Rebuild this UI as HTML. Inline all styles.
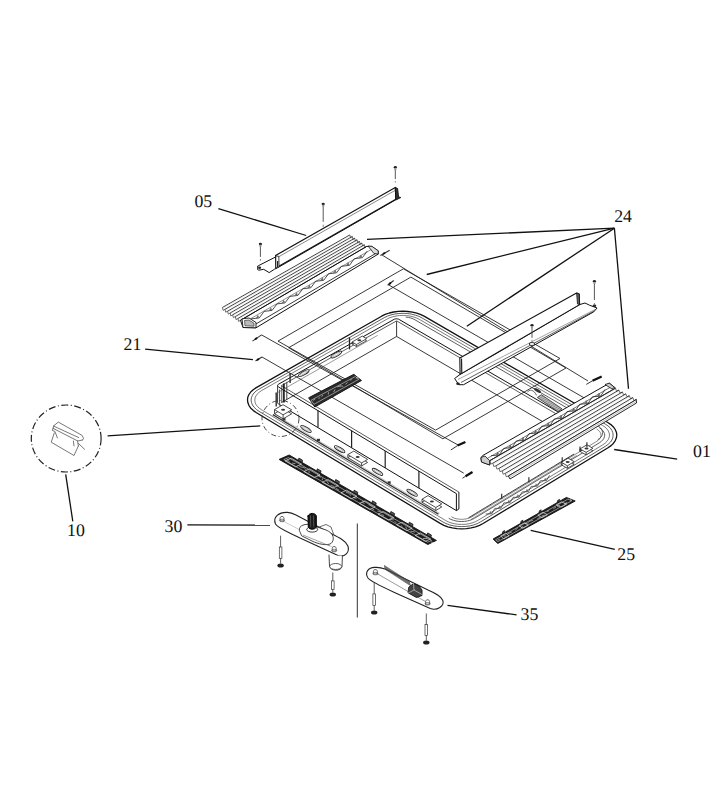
<!DOCTYPE html>
<html><head><meta charset="utf-8"><style>
html,body{margin:0;padding:0;background:#fff;width:728px;height:800px;overflow:hidden}
svg{display:block}
text{font-family:"Liberation Serif",serif;font-size:17.8px;text-rendering:geometricPrecision;fill:#111}
</style></head><body>
<svg width="728" height="800" viewBox="0 0 728 800">
<rect width="728" height="800" fill="#fff"/>
<line x1="218.4" y1="208.6" x2="306.2" y2="235.5" stroke="#111" stroke-width="1.3"/>
<line x1="614.4" y1="228.2" x2="367.0" y2="239.4" stroke="#111" stroke-width="1.3"/>
<line x1="614.4" y1="228.2" x2="426.7" y2="274.5" stroke="#111" stroke-width="1.3"/>
<line x1="614.4" y1="228.2" x2="466.8" y2="326.2" stroke="#111" stroke-width="1.3"/>
<line x1="614.4" y1="228.2" x2="628.5" y2="388.8" stroke="#111" stroke-width="1.3"/>
<line x1="145.1" y1="349.2" x2="252.9" y2="359.6" stroke="#111" stroke-width="1.3"/>
<line x1="614.2" y1="449.5" x2="677.2" y2="459.2" stroke="#111" stroke-width="1.3"/>
<line x1="107.6" y1="435.8" x2="260.2" y2="425.9" stroke="#111" stroke-width="1.3"/>
<line x1="65.7" y1="474.4" x2="72.8" y2="521.4" stroke="#111" stroke-width="1.3"/>
<line x1="187.4" y1="524.8" x2="270.0" y2="525.2" stroke="#111" stroke-width="1.3"/>
<line x1="530.7" y1="530.3" x2="614.8" y2="549.3" stroke="#111" stroke-width="1.3"/>
<line x1="447.5" y1="605.4" x2="516.6" y2="614.9" stroke="#111" stroke-width="1.3"/>
<line x1="357.3" y1="523.5" x2="357.3" y2="617.5" stroke="#333" stroke-width="1.0"/>
<ellipse cx="66.2" cy="438.5" rx="34.9" ry="33.5" fill="none" stroke="#222" stroke-width="1.2" stroke-dasharray="7 2.5 1 2.5"/>
<path d="M53.7,425.8 L58.3,422.1 L82.1,435.4 L83.6,438.5 L82.5,440 M53.7,425.8 L53,428.3 L77.8,441 L82.5,440 M54.3,426.4 L78.7,437.6 M53,428.3 L52.4,430.5 L54.9,431.4 L57.4,437.9 M54.3,432.9 L51.2,442.2 L74,455.5 L78.4,445.9 M73.4,441 L74,445.9 M78.4,443.4 L84.6,449.3 M77.5,441 L78.4,445.9" fill="none" stroke="#555" stroke-width="0.8" stroke-linejoin="round" stroke-linecap="round"/>
<polygon points="256.5,412.8 253.4,410.6 250.8,408.2 249.0,405.6 247.9,402.8 247.5,400.0 247.8,397.3 248.9,394.6 250.7,392.0 253.2,389.7 256.3,387.6 381.6,316.2 385.2,314.4 389.3,313.0 393.7,312.0 398.3,311.4 403.0,311.2 407.8,311.5 412.4,312.1 416.8,313.2 420.9,314.6 424.5,316.4 607.8,422.5 610.9,424.6 613.4,426.9 615.2,429.5 616.4,432.2 616.8,435.0 616.4,437.8 615.3,440.6 613.5,443.2 611.1,445.6 608.0,447.8 483.1,523.5 479.5,525.4 475.5,526.9 471.1,527.9 466.5,528.6 461.7,528.8 457.0,528.6 452.3,527.9 447.9,526.8 443.9,525.3 440.2,523.4" fill="#fff" stroke="#111" stroke-width="1.3" stroke-linejoin="round"/>
<polygon points="259.0,411.3 256.3,409.4 254.1,407.3 252.5,405.0 251.5,402.6 251.1,400.1 251.4,397.7 252.4,395.3 254.0,393.0 256.1,391.0 258.9,389.2 384.2,317.7 387.4,316.1 391.0,314.9 394.8,314.0 398.9,313.5 403.1,313.3 407.2,313.5 411.3,314.1 415.2,315.1 418.8,316.3 421.9,317.9 605.2,424.0 608.0,425.9 610.2,427.9 611.8,430.2 612.8,432.6 613.1,435.1 612.8,437.5 611.9,440.0 610.3,442.3 608.1,444.4 605.4,446.3 480.5,521.9 477.3,523.6 473.8,524.9 469.9,525.9 465.9,526.4 461.7,526.6 457.5,526.4 453.4,525.8 449.6,524.9 446.0,523.5 442.8,521.9" fill="none" stroke="#333" stroke-width="0.8" stroke-linejoin="round"/>
<polygon points="261.6,409.8 259.2,408.2 257.3,406.3 255.9,404.4 255.1,402.3 254.8,400.2 255.0,398.0 255.9,396.0 257.2,394.1 259.1,392.3 261.4,390.7 386.8,319.2 389.5,317.8 392.6,316.8 396.0,316.0 399.5,315.5 403.1,315.4 406.7,315.6 410.2,316.1 413.5,316.9 416.6,318.0 419.4,319.4 602.7,425.5 605.0,427.1 606.9,428.9 608.3,430.9 609.2,433.0 609.5,435.1 609.2,437.2 608.4,439.3 607.0,441.3 605.2,443.1 602.8,444.8 477.9,520.4 475.2,521.8 472.1,522.9 468.8,523.8 465.3,524.3 461.7,524.4 458.1,524.3 454.5,523.7 451.2,522.9 448.1,521.8 445.3,520.3" fill="none" stroke="#444" stroke-width="0.7" stroke-linejoin="round"/>
<polyline points="599.3,427.6 601.1,428.9 602.6,430.3 603.7,431.8 604.4,433.5 604.7,435.1 604.4,436.8 603.8,438.5 602.7,440.0 601.2,441.5 599.4,442.8 474.5,518.3 472.3,519.4 469.9,520.3 467.3,521.0 464.5,521.4 461.6,521.5 458.8,521.4 456.0,521.0 453.4,520.3 450.9,519.4 448.7,518.3" fill="none" stroke="#333" stroke-width="0.8" stroke-linejoin="round"/>
<polyline points="596.7,429.1 598.2,430.1 599.4,431.3 600.3,432.5 600.8,433.8 601.0,435.2 600.9,436.5 600.3,437.8 599.5,439.1 598.3,440.3 596.8,441.3 471.9,516.8 470.2,517.7 468.2,518.4 466.1,518.9 463.9,519.2 461.6,519.3 459.3,519.2 457.1,518.9 455.0,518.4 453.1,517.6 451.3,516.7" fill="none" stroke="#555" stroke-width="0.7" stroke-linejoin="round"/>
<polygon points="456.4,493.6 278.7,387.1 278.3,386.7 277.9,386.4 277.7,386.0 277.6,385.6 277.6,402.6 277.7,403.0 277.9,403.4 278.3,403.7 278.7,404.1 456.4,510.6" fill="#fff" stroke="none" stroke-width="0.0" stroke-linejoin="round"/>
<polygon points="396.6,321.0 396.7,321.0 396.8,321.1 396.9,321.1 397.0,321.1 556.7,414.2 556.7,429.8 397.0,336.7 396.9,336.6 396.8,336.6 396.7,336.6 396.6,336.6" fill="#fff" stroke="none" stroke-width="0.0" stroke-linejoin="round"/>
<polyline points="456.4,493.6 278.7,387.1 278.3,386.7 277.9,386.4 277.7,386.0 277.6,385.6 277.7,385.1 277.9,384.8 278.2,384.4 278.7,384.1 394.0,319.4 394.6,319.1 395.2,319.0 395.9,318.8 396.6,318.8 397.3,318.9 398.0,319.0 398.6,319.2 399.2,319.5 559.3,412.7" fill="none" stroke="#111" stroke-width="1.0" stroke-linejoin="round"/>
<polyline points="458.9,492.1 281.7,385.9 281.6,385.8 281.6,385.8 281.5,385.7 281.5,385.6 281.5,385.6 281.6,385.5 281.6,385.5 281.7,385.4 396.2,321.1 396.3,321.1 396.4,321.1 396.5,321.0 396.6,321.0 396.7,321.0 396.8,321.1 396.9,321.1 397.0,321.1 556.7,414.2" fill="none" stroke="#333" stroke-width="0.8" stroke-linejoin="round"/>
<polyline points="456.4,510.6 278.7,404.1 278.3,403.7 277.9,403.4 277.7,403.0 277.6,402.6" fill="none" stroke="#111" stroke-width="1.0" stroke-linejoin="round"/>
<polyline points="281.5,402.7 281.5,402.6 281.5,402.5 281.6,402.5 281.6,402.4 281.7,402.4 396.2,336.7 396.3,336.6 396.4,336.6 396.5,336.6 396.6,336.6 396.7,336.6 396.8,336.6 396.9,336.6 397.0,336.7 556.7,429.8" fill="none" stroke="#222" stroke-width="0.9" stroke-linejoin="round"/>
<line x1="456.4" y1="493.6" x2="456.4" y2="510.6" stroke="#111" stroke-width="1.0"/>
<line x1="458.9" y1="492.1" x2="458.9" y2="509.0" stroke="#111" stroke-width="1.0"/>
<line x1="456.4" y1="510.6" x2="458.9" y2="509.0" stroke="#111" stroke-width="1.0"/>
<line x1="559.3" y1="412.7" x2="559.3" y2="428.2" stroke="#222" stroke-width="0.9"/>
<line x1="556.7" y1="414.2" x2="556.7" y2="429.8" stroke="#222" stroke-width="0.9"/>
<line x1="277.6" y1="385.6" x2="277.6" y2="402.6" stroke="#222" stroke-width="0.9"/>
<line x1="281.8" y1="385.6" x2="281.8" y2="402.6" stroke="#222" stroke-width="0.8"/>
<line x1="396.6" y1="321.2" x2="396.6" y2="336.7" stroke="#222" stroke-width="0.9"/>
<line x1="318.0" y1="410.6" x2="318.0" y2="427.6" stroke="#222" stroke-width="1.2"/>
<line x1="351.6" y1="430.8" x2="351.6" y2="447.8" stroke="#222" stroke-width="1.2"/>
<line x1="385.2" y1="450.9" x2="385.2" y2="467.9" stroke="#222" stroke-width="1.2"/>
<line x1="418.9" y1="471.1" x2="418.9" y2="488.1" stroke="#222" stroke-width="1.2"/>
<polyline points="272.8,414.6 279.7,418.7 286.6,422.9 293.5,427.0 300.4,431.2 307.3,435.3 314.2,439.5 321.1,443.6 328.0,447.8 334.9,451.9 341.8,456.1 348.7,460.2 355.6,464.3 362.5,468.5 369.4,472.6 376.3,476.8 383.2,480.9 390.1,485.1 397.0,489.2 403.9,493.4 410.8,497.5 417.7,501.7 424.6,505.8 431.5,510.0 438.4,514.1" fill="none" stroke="#333" stroke-width="1.3" stroke-linejoin="round"/>
<polyline points="274.1,413.8 281.0,418.0 287.9,422.1 294.8,426.3 301.7,430.4 308.6,434.6 315.5,438.7 322.4,442.9 329.3,447.0 336.2,451.2 343.1,455.3 350.0,459.4 356.9,463.6 363.8,467.7 370.7,471.9 377.6,476.0 384.5,480.2 391.4,484.3 398.3,488.5 405.2,492.6 412.1,496.8 419.0,500.9 425.9,505.1 432.8,509.2 439.7,513.4" fill="none" stroke="#888" stroke-width="0.5" stroke-linejoin="round"/>
<ellipse cx="306.0" cy="429.0" rx="6.0" ry="1.8" fill="#fff" stroke="#222" stroke-width="0.9" transform="rotate(31.0 306.0 429.0)"/>
<ellipse cx="306.0" cy="429.0" rx="4.2" ry="0.9" fill="none" stroke="#777" stroke-width="0.5" transform="rotate(31.0 306.0 429.0)"/>
<ellipse cx="339.6" cy="449.2" rx="6.0" ry="1.8" fill="#fff" stroke="#222" stroke-width="0.9" transform="rotate(31.0 339.6 449.2)"/>
<ellipse cx="339.6" cy="449.2" rx="4.2" ry="0.9" fill="none" stroke="#777" stroke-width="0.5" transform="rotate(31.0 339.6 449.2)"/>
<ellipse cx="377.5" cy="471.9" rx="6.0" ry="1.8" fill="#fff" stroke="#222" stroke-width="0.9" transform="rotate(31.0 377.5 471.9)"/>
<ellipse cx="377.5" cy="471.9" rx="4.2" ry="0.9" fill="none" stroke="#777" stroke-width="0.5" transform="rotate(31.0 377.5 471.9)"/>
<ellipse cx="412.1" cy="492.7" rx="6.0" ry="1.8" fill="#fff" stroke="#222" stroke-width="0.9" transform="rotate(31.0 412.1 492.7)"/>
<ellipse cx="412.1" cy="492.7" rx="4.2" ry="0.9" fill="none" stroke="#777" stroke-width="0.5" transform="rotate(31.0 412.1 492.7)"/>
<polygon points="347.8,457.6 361.6,465.9 367.6,462.4 353.8,454.1" fill="#fff" stroke="#222" stroke-width="0.8" stroke-linejoin="round"/>
<polygon points="347.8,454.6 361.6,462.9 367.6,459.4 353.8,451.1" fill="#fff" stroke="#222" stroke-width="0.8" stroke-linejoin="round"/>
<line x1="347.8" y1="457.6" x2="347.8" y2="454.6" stroke="#222" stroke-width="0.8"/>
<line x1="361.6" y1="465.9" x2="361.6" y2="462.9" stroke="#222" stroke-width="0.8"/>
<ellipse cx="357.7" cy="457.0" rx="2" ry="1" fill="#333"/>
<polygon points="422.0,502.2 435.8,510.5 441.8,506.9 428.0,498.6" fill="#fff" stroke="#222" stroke-width="0.8" stroke-linejoin="round"/>
<polygon points="422.0,499.2 435.8,507.5 441.8,503.9 428.0,495.6" fill="#fff" stroke="#222" stroke-width="0.8" stroke-linejoin="round"/>
<line x1="422.0" y1="502.2" x2="422.0" y2="499.2" stroke="#222" stroke-width="0.8"/>
<line x1="435.8" y1="510.5" x2="435.8" y2="507.5" stroke="#222" stroke-width="0.8"/>
<ellipse cx="431.9" cy="501.6" rx="2" ry="1" fill="#333"/>
<rect x="282.5" y="418.1" width="3" height="2.4" fill="#333"/>
<rect x="317.0" y="438.8" width="3" height="2.4" fill="#333"/>
<rect x="387.7" y="481.3" width="3" height="2.4" fill="#333"/>
<polygon points="274.5,413.6 283.1,418.8 291.7,413.8 283.0,408.7" fill="#fff" stroke="#222" stroke-width="0.8" stroke-linejoin="round"/>
<polygon points="274.5,409.6 283.1,414.8 291.7,409.8 283.0,404.7" fill="#fff" stroke="#222" stroke-width="0.8" stroke-linejoin="round"/>
<line x1="274.5" y1="413.6" x2="274.5" y2="409.6" stroke="#222" stroke-width="0.8"/>
<line x1="283.1" y1="418.8" x2="283.1" y2="414.8" stroke="#222" stroke-width="0.8"/>
<ellipse cx="283.1" cy="409.7" rx="2" ry="1" fill="#333"/>
<line x1="276.2" y1="406.6" x2="276.2" y2="392.6" stroke="#222" stroke-width="1.3"/>
<line x1="279.6" y1="405.6" x2="279.6" y2="389.6" stroke="#444" stroke-width="1.0"/>
<line x1="283.9" y1="402.6" x2="283.9" y2="383.6" stroke="#111" stroke-width="1.6"/>
<line x1="286.8" y1="399.9" x2="286.8" y2="381.9" stroke="#444" stroke-width="1.0"/>
<ellipse cx="303.8" cy="373.1" rx="6.0" ry="1.8" fill="#fff" stroke="#222" stroke-width="0.9" transform="rotate(-29.8 303.8 373.1)"/>
<ellipse cx="303.8" cy="373.1" rx="4.2" ry="0.9" fill="none" stroke="#777" stroke-width="0.5" transform="rotate(-29.8 303.8 373.1)"/>
<ellipse cx="336.3" cy="354.5" rx="6.0" ry="1.8" fill="#fff" stroke="#222" stroke-width="0.9" transform="rotate(-29.8 336.3 354.5)"/>
<ellipse cx="336.3" cy="354.5" rx="4.2" ry="0.9" fill="none" stroke="#777" stroke-width="0.5" transform="rotate(-29.8 336.3 354.5)"/>
<line x1="349.5" y1="349.4" x2="349.5" y2="337.4" stroke="#222" stroke-width="1.3"/>
<line x1="290.1" y1="382.9" x2="290.1" y2="372.9" stroke="#222" stroke-width="1.3"/>
<polygon points="352.1,344.0 356.4,346.5 366.6,340.7 362.3,338.1" fill="#fff" stroke="#222" stroke-width="0.8" stroke-linejoin="round"/>
<polygon points="352.1,342.0 356.4,344.5 366.6,338.7 362.3,336.1" fill="#fff" stroke="#222" stroke-width="0.8" stroke-linejoin="round"/>
<line x1="352.1" y1="344.0" x2="352.1" y2="342.0" stroke="#222" stroke-width="0.8"/>
<line x1="356.4" y1="346.5" x2="356.4" y2="344.5" stroke="#222" stroke-width="0.8"/>
<ellipse cx="359.3" cy="340.3" rx="2" ry="1" fill="#333"/>
<polyline points="275.2,394.0 377.7,335.3" fill="none" stroke="#555" stroke-width="0.6" stroke-linejoin="round"/>
<polyline points="468.5,517.8 471.9,515.8 475.3,513.7 478.7,511.6 482.1,509.6 485.5,507.5 488.9,505.5 492.3,503.4 495.7,501.3 499.1,499.3 502.5,497.2 505.9,495.2 509.3,493.1 512.7,491.1 516.2,489.0 519.6,486.9 523.0,484.9 526.4,482.8 529.8,480.8 533.2,478.7 536.6,476.7 540.0,474.6 543.4,472.5 546.8,470.5 550.2,468.4 553.6,466.4 557.0,464.3 560.4,462.2 563.9,460.2 567.3,458.1 570.7,456.1 574.1,454.0" fill="none" stroke="#222" stroke-width="0.9" stroke-linejoin="round"/>
<polyline points="471.0,519.4 474.5,517.3 477.9,515.2 481.3,513.2 484.7,511.1 488.1,509.1 491.5,507.0 494.9,504.9 498.3,502.9 501.7,500.8 505.1,498.8 508.5,496.7 511.9,494.7 515.3,492.6 518.7,490.5 522.1,488.5 525.6,486.4 529.0,484.4 532.4,482.3 535.8,480.2 539.2,478.2 542.6,476.1 546.0,474.1 549.4,472.0 552.8,469.9 556.2,467.9 559.6,465.8 563.0,463.8 566.4,461.7 569.8,459.6 573.2,457.6 576.7,455.5" fill="none" stroke="#555" stroke-width="0.6" stroke-linejoin="round"/>
<polyline points="405.7,317.1 408.3,317.4 410.8,318.0 413.1,318.8 415.1,319.9 597.5,425.6 599.3,426.8 600.7,428.1 601.7,429.5 602.3,431.1 602.6,432.6 602.4,434.2 601.8,435.7 600.8,437.2 599.4,438.6 597.7,439.8" fill="none" stroke="#333" stroke-width="0.8" stroke-linejoin="round"/>
<polyline points="485.7,514.0 491.8,513.8 494.8,508.4 500.9,508.2 503.9,502.9 510.0,502.7 513.0,497.4 519.1,497.2 522.2,491.9 528.3,491.7 531.3,486.4 537.4,486.2 540.4,480.8 546.5,480.6 549.5,475.3" fill="none" stroke="#222" stroke-width="0.7" stroke-linejoin="round"/>
<line x1="490.2" y1="511.2" x2="491.2" y2="512.9" stroke="#444" stroke-width="0.6"/>
<line x1="499.3" y1="505.7" x2="500.4" y2="507.3" stroke="#444" stroke-width="0.6"/>
<line x1="508.5" y1="500.2" x2="509.5" y2="501.8" stroke="#444" stroke-width="0.6"/>
<line x1="517.6" y1="494.6" x2="518.6" y2="496.3" stroke="#444" stroke-width="0.6"/>
<line x1="526.7" y1="489.1" x2="527.7" y2="490.8" stroke="#444" stroke-width="0.6"/>
<line x1="535.8" y1="483.6" x2="536.8" y2="485.3" stroke="#444" stroke-width="0.6"/>
<line x1="545.0" y1="478.1" x2="546.0" y2="479.7" stroke="#444" stroke-width="0.6"/>
<polygon points="488.9,514.1 490.4,511.5 491.5,513.3" fill="#666"/>
<polygon points="498.0,508.6 499.5,505.9 500.6,507.7" fill="#666"/>
<polygon points="507.1,503.1 508.6,500.4 509.7,502.2" fill="#666"/>
<polygon points="516.2,497.6 517.7,494.9 518.8,496.7" fill="#666"/>
<polygon points="525.4,492.0 526.9,489.4 528.0,491.2" fill="#666"/>
<polygon points="534.5,486.5 536.0,483.9 537.1,485.6" fill="#666"/>
<polygon points="543.6,481.0 545.1,478.3 546.2,480.1" fill="#666"/>
<polygon points="561.3,464.8 567.4,468.3 574.2,464.2 568.1,460.7" fill="#fff" stroke="#222" stroke-width="0.8" stroke-linejoin="round"/>
<polygon points="561.3,462.3 567.4,465.8 574.2,461.7 568.1,458.2" fill="#fff" stroke="#222" stroke-width="0.8" stroke-linejoin="round"/>
<line x1="561.3" y1="464.8" x2="561.3" y2="462.3" stroke="#222" stroke-width="0.8"/>
<line x1="567.4" y1="468.3" x2="567.4" y2="465.8" stroke="#222" stroke-width="0.8"/>
<ellipse cx="567.7" cy="462.0" rx="2" ry="1" fill="#333"/>
<polygon points="580.0,451.4 586.1,454.9 592.9,450.8 586.9,447.3" fill="#fff" stroke="#222" stroke-width="0.8" stroke-linejoin="round"/>
<polygon points="580.0,448.9 586.1,452.4 592.9,448.3 586.9,444.8" fill="#fff" stroke="#222" stroke-width="0.8" stroke-linejoin="round"/>
<line x1="580.0" y1="451.4" x2="580.0" y2="448.9" stroke="#222" stroke-width="0.8"/>
<line x1="586.1" y1="454.9" x2="586.1" y2="452.4" stroke="#222" stroke-width="0.8"/>
<ellipse cx="586.5" cy="448.6" rx="2" ry="1" fill="#333"/>
<line x1="501.7" y1="498.8" x2="501.7" y2="493.8" stroke="#222" stroke-width="1.1"/>
<line x1="528.9" y1="482.3" x2="528.9" y2="477.3" stroke="#222" stroke-width="1.1"/>
<line x1="562.2" y1="462.2" x2="562.2" y2="457.2" stroke="#222" stroke-width="1.1"/>
<line x1="580.0" y1="451.4" x2="580.0" y2="446.4" stroke="#222" stroke-width="1.1"/>
<line x1="586.9" y1="447.3" x2="586.9" y2="442.3" stroke="#222" stroke-width="1.1"/>
<polygon points="537.3,397.5 541.5,394.8 562.0,408.8 558.0,411.6" fill="#bbb" stroke="#333" stroke-width="0.8" stroke-linejoin="round"/>
<line x1="537.3" y1="397.5" x2="541.5" y2="394.8" stroke="#555" stroke-width="0.5"/>
<line x1="539.2" y1="398.8" x2="543.4" y2="396.1" stroke="#555" stroke-width="0.5"/>
<line x1="541.1" y1="400.1" x2="545.2" y2="397.3" stroke="#555" stroke-width="0.5"/>
<line x1="542.9" y1="401.3" x2="547.1" y2="398.6" stroke="#555" stroke-width="0.5"/>
<line x1="544.8" y1="402.6" x2="549.0" y2="399.9" stroke="#555" stroke-width="0.5"/>
<line x1="546.7" y1="403.9" x2="550.8" y2="401.2" stroke="#555" stroke-width="0.5"/>
<line x1="548.6" y1="405.2" x2="552.7" y2="402.4" stroke="#555" stroke-width="0.5"/>
<line x1="550.5" y1="406.5" x2="554.5" y2="403.7" stroke="#555" stroke-width="0.5"/>
<line x1="552.4" y1="407.8" x2="556.4" y2="405.0" stroke="#555" stroke-width="0.5"/>
<line x1="554.2" y1="409.0" x2="558.3" y2="406.3" stroke="#555" stroke-width="0.5"/>
<line x1="556.1" y1="410.3" x2="560.1" y2="407.5" stroke="#555" stroke-width="0.5"/>
<line x1="558.0" y1="411.6" x2="562.0" y2="408.8" stroke="#555" stroke-width="0.5"/>
<ellipse cx="537.5" cy="390.5" rx="4" ry="1.4" fill="#333" transform="rotate(30 537.5 390.5)"/>
<path d="M527.5,392 C529,389 534,389.5 536.4,395" fill="none" stroke="#444" stroke-width="0.8" stroke-linejoin="round" stroke-linecap="round"/>
<polygon points="278.0,341.1 403.4,268.8 560.0,358.5 435.6,430.1" fill="none" stroke="#222" stroke-width="0.9" stroke-linejoin="round"/>
<polygon points="288.7,347.7 410.9,277.1 566.0,368.0 442.9,438.8" fill="none" stroke="#222" stroke-width="0.9" stroke-linejoin="round"/>
<line x1="382.0" y1="255.0" x2="588.0" y2="381.0" stroke="#222" stroke-width="0.9"/>
<line x1="388.2" y1="284.6" x2="593.0" y2="403.0" stroke="#222" stroke-width="0.9"/>
<line x1="261.5" y1="334.9" x2="458.0" y2="445.0" stroke="#222" stroke-width="0.9"/>
<line x1="262.0" y1="357.0" x2="463.7" y2="473.1" stroke="#222" stroke-width="0.9"/>
<line x1="380.4" y1="255.5" x2="389.7" y2="250.3" stroke="#333" stroke-width="1.1"/>
<ellipse cx="384.1" cy="253.4" rx="1.6" ry="1.0" fill="#111" transform="rotate(-29.2 384.1 253.4)"/>
<line x1="387.6" y1="285.3" x2="393.7" y2="280.5" stroke="#333" stroke-width="1.1"/>
<ellipse cx="390.0" cy="283.4" rx="1.6" ry="1.0" fill="#111" transform="rotate(-38.2 390.0 283.4)"/>
<line x1="252.5" y1="341.1" x2="261.5" y2="334.9" stroke="#333" stroke-width="1.1"/>
<ellipse cx="256.1" cy="338.6" rx="1.6" ry="1.0" fill="#111" transform="rotate(-34.6 256.1 338.6)"/>
<line x1="255.5" y1="361.0" x2="262.0" y2="357.0" stroke="#333" stroke-width="1.1"/>
<ellipse cx="258.1" cy="359.4" rx="1.6" ry="1.0" fill="#111" transform="rotate(-31.6 258.1 359.4)"/>
<line x1="450.8" y1="450.0" x2="457.5" y2="445.6" stroke="#333" stroke-width="1.0"/>
<line x1="457.5" y1="445.6" x2="465.4" y2="442.0" stroke="#111" stroke-width="2.2"/>
<line x1="462.5" y1="478.2" x2="465.5" y2="476.3" stroke="#333" stroke-width="1.0"/>
<line x1="465.5" y1="476.3" x2="472.5" y2="472.0" stroke="#111" stroke-width="2.2"/>
<line x1="586.3" y1="384.4" x2="592.5" y2="380.8" stroke="#333" stroke-width="1.0"/>
<line x1="592.5" y1="380.8" x2="601.7" y2="376.5" stroke="#111" stroke-width="2.2"/>
<polygon points="493.1,539.0 566.4,497.4 575.2,501.0 497.8,543.5" fill="#1c1c1c" stroke="#111" stroke-width="0.9" stroke-linejoin="round"/>
<polygon points="495.6,539.7 567.9,499.1 571.9,500.7 497.8,541.7" fill="none" stroke="#d8d8d8" stroke-width="0.6" stroke-linejoin="round"/>
<line x1="497.4" y1="540.3" x2="499.9" y2="539.0" stroke="#e0e0e0" stroke-width="0.6"/>
<line x1="503.3" y1="535.9" x2="506.1" y2="536.0" stroke="#e0e0e0" stroke-width="0.6"/>
<line x1="507.7" y1="533.8" x2="511.8" y2="532.0" stroke="#e0e0e0" stroke-width="0.6"/>
<line x1="515.3" y1="530.1" x2="517.7" y2="528.0" stroke="#e0e0e0" stroke-width="0.6"/>
<line x1="520.8" y1="528.0" x2="523.3" y2="526.3" stroke="#e0e0e0" stroke-width="0.6"/>
<line x1="524.8" y1="523.9" x2="529.0" y2="522.7" stroke="#e0e0e0" stroke-width="0.6"/>
<line x1="528.9" y1="521.5" x2="533.2" y2="520.1" stroke="#e0e0e0" stroke-width="0.6"/>
<line x1="537.3" y1="518.8" x2="540.6" y2="517.1" stroke="#e0e0e0" stroke-width="0.6"/>
<line x1="541.5" y1="516.3" x2="544.4" y2="515.0" stroke="#e0e0e0" stroke-width="0.6"/>
<line x1="546.9" y1="511.6" x2="549.1" y2="510.6" stroke="#e0e0e0" stroke-width="0.6"/>
<line x1="553.3" y1="508.8" x2="556.0" y2="507.0" stroke="#e0e0e0" stroke-width="0.6"/>
<line x1="557.1" y1="506.6" x2="559.9" y2="505.5" stroke="#e0e0e0" stroke-width="0.6"/>
<line x1="564.0" y1="504.0" x2="567.2" y2="502.3" stroke="#e0e0e0" stroke-width="0.6"/>
<line x1="570.5" y1="500.6" x2="571.4" y2="498.0" stroke="#e0e0e0" stroke-width="0.6"/>
<polygon points="500.7,536.1 505.9,533.2 509.1,535.8 503.8,538.8" fill="none" stroke="#e8e8e8" stroke-width="0.7" stroke-linejoin="round"/>
<polygon points="519.2,525.7 524.4,522.8 528.3,525.2 522.9,528.2" fill="none" stroke="#e8e8e8" stroke-width="0.7" stroke-linejoin="round"/>
<polygon points="537.8,515.2 543.0,512.3 547.4,514.7 542.0,517.6" fill="none" stroke="#e8e8e8" stroke-width="0.7" stroke-linejoin="round"/>
<polygon points="556.3,504.8 561.5,501.9 566.5,504.1 561.2,507.1" fill="none" stroke="#e8e8e8" stroke-width="0.7" stroke-linejoin="round"/>
<polygon points="502.3,533.8 502.8,531.6 504.6,530.6 504.1,532.8" fill="#555" stroke="#111" stroke-width="0.8" stroke-linejoin="round"/>
<polygon points="520.6,523.4 521.1,521.2 522.9,520.2 522.4,522.4" fill="#555" stroke="#111" stroke-width="0.8" stroke-linejoin="round"/>
<polygon points="538.9,513.0 539.4,510.8 541.2,509.8 540.7,512.0" fill="#555" stroke="#111" stroke-width="0.8" stroke-linejoin="round"/>
<polygon points="557.2,502.6 557.7,500.4 559.6,499.4 559.1,501.6" fill="#555" stroke="#111" stroke-width="0.8" stroke-linejoin="round"/>
<polygon points="289.2,455.0 436.4,540.4 427.8,544.5 279.1,459.4" fill="#1c1c1c" stroke="#111" stroke-width="0.9" stroke-linejoin="round"/>
<polygon points="288.4,457.6 431.6,540.4 427.7,542.2 283.8,459.6" fill="none" stroke="#d8d8d8" stroke-width="0.6" stroke-linejoin="round"/>
<line x1="286.7" y1="459.4" x2="289.6" y2="461.7" stroke="#e0e0e0" stroke-width="0.6"/>
<line x1="292.2" y1="463.1" x2="295.4" y2="463.6" stroke="#e0e0e0" stroke-width="0.6"/>
<line x1="299.4" y1="466.5" x2="304.8" y2="467.9" stroke="#e0e0e0" stroke-width="0.6"/>
<line x1="304.7" y1="468.3" x2="306.7" y2="470.4" stroke="#e0e0e0" stroke-width="0.6"/>
<line x1="308.9" y1="470.6" x2="309.2" y2="472.9" stroke="#e0e0e0" stroke-width="0.6"/>
<line x1="317.4" y1="475.3" x2="320.9" y2="477.3" stroke="#e0e0e0" stroke-width="0.6"/>
<line x1="322.6" y1="478.3" x2="322.2" y2="480.2" stroke="#e0e0e0" stroke-width="0.6"/>
<line x1="326.7" y1="480.9" x2="328.7" y2="484.0" stroke="#e0e0e0" stroke-width="0.6"/>
<line x1="330.5" y1="485.3" x2="334.2" y2="486.6" stroke="#e0e0e0" stroke-width="0.6"/>
<line x1="335.9" y1="488.3" x2="339.1" y2="490.3" stroke="#e0e0e0" stroke-width="0.6"/>
<line x1="345.8" y1="492.1" x2="348.7" y2="493.4" stroke="#e0e0e0" stroke-width="0.6"/>
<line x1="349.6" y1="493.7" x2="350.5" y2="495.7" stroke="#e0e0e0" stroke-width="0.6"/>
<line x1="353.1" y1="497.4" x2="356.6" y2="498.4" stroke="#e0e0e0" stroke-width="0.6"/>
<line x1="362.1" y1="502.1" x2="364.5" y2="503.5" stroke="#e0e0e0" stroke-width="0.6"/>
<line x1="368.6" y1="504.6" x2="372.6" y2="506.8" stroke="#e0e0e0" stroke-width="0.6"/>
<line x1="372.3" y1="509.0" x2="374.2" y2="509.9" stroke="#e0e0e0" stroke-width="0.6"/>
<line x1="377.4" y1="511.1" x2="380.6" y2="511.5" stroke="#e0e0e0" stroke-width="0.6"/>
<line x1="381.4" y1="514.5" x2="384.1" y2="515.5" stroke="#e0e0e0" stroke-width="0.6"/>
<line x1="389.7" y1="519.3" x2="393.8" y2="520.0" stroke="#e0e0e0" stroke-width="0.6"/>
<line x1="394.5" y1="521.5" x2="396.5" y2="522.6" stroke="#e0e0e0" stroke-width="0.6"/>
<line x1="400.9" y1="525.5" x2="402.4" y2="526.6" stroke="#e0e0e0" stroke-width="0.6"/>
<line x1="405.5" y1="526.7" x2="407.1" y2="529.2" stroke="#e0e0e0" stroke-width="0.6"/>
<line x1="410.5" y1="531.2" x2="415.1" y2="532.1" stroke="#e0e0e0" stroke-width="0.6"/>
<line x1="418.1" y1="533.5" x2="420.1" y2="534.5" stroke="#e0e0e0" stroke-width="0.6"/>
<line x1="422.9" y1="538.5" x2="427.5" y2="538.5" stroke="#e0e0e0" stroke-width="0.6"/>
<line x1="430.8" y1="541.8" x2="434.2" y2="543.0" stroke="#e0e0e0" stroke-width="0.6"/>
<polygon points="291.2,458.2 301.6,464.2 295.6,466.8 285.2,460.9" fill="none" stroke="#e8e8e8" stroke-width="0.7" stroke-linejoin="round"/>
<polygon points="309.7,468.9 320.0,474.9 314.1,477.5 303.8,471.5" fill="none" stroke="#e8e8e8" stroke-width="0.7" stroke-linejoin="round"/>
<polygon points="328.1,479.6 338.4,485.5 332.7,488.1 322.3,482.2" fill="none" stroke="#e8e8e8" stroke-width="0.7" stroke-linejoin="round"/>
<polygon points="346.5,490.2 356.9,496.2 351.2,498.8 340.9,492.8" fill="none" stroke="#e8e8e8" stroke-width="0.7" stroke-linejoin="round"/>
<polygon points="365.0,500.9 375.3,506.9 369.8,509.4 359.4,503.4" fill="none" stroke="#e8e8e8" stroke-width="0.7" stroke-linejoin="round"/>
<polygon points="383.4,511.6 393.7,517.5 388.3,520.0 378.0,514.1" fill="none" stroke="#e8e8e8" stroke-width="0.7" stroke-linejoin="round"/>
<polygon points="401.9,522.2 412.2,528.2 406.9,530.7 396.5,524.7" fill="none" stroke="#e8e8e8" stroke-width="0.7" stroke-linejoin="round"/>
<polygon points="420.3,532.9 430.6,538.9 425.4,541.3 415.1,535.4" fill="none" stroke="#e8e8e8" stroke-width="0.7" stroke-linejoin="round"/>
<polygon points="298.4,460.3 298.9,458.1 302.6,460.3 302.1,462.5" fill="#555" stroke="#111" stroke-width="0.8" stroke-linejoin="round"/>
<polygon points="316.8,471.0 317.3,468.8 321.0,470.9 320.5,473.1" fill="#555" stroke="#111" stroke-width="0.8" stroke-linejoin="round"/>
<polygon points="335.2,481.7 335.7,479.5 339.4,481.6 338.9,483.8" fill="#555" stroke="#111" stroke-width="0.8" stroke-linejoin="round"/>
<polygon points="353.6,492.4 354.1,490.2 357.8,492.3 357.3,494.5" fill="#555" stroke="#111" stroke-width="0.8" stroke-linejoin="round"/>
<polygon points="372.0,503.0 372.5,500.8 376.2,503.0 375.7,505.2" fill="#555" stroke="#111" stroke-width="0.8" stroke-linejoin="round"/>
<polygon points="390.4,513.7 390.9,511.5 394.6,513.6 394.1,515.8" fill="#555" stroke="#111" stroke-width="0.8" stroke-linejoin="round"/>
<polygon points="408.8,524.4 409.3,522.2 413.0,524.3 412.5,526.5" fill="#555" stroke="#111" stroke-width="0.8" stroke-linejoin="round"/>
<polygon points="427.2,535.1 427.7,532.9 431.4,535.0 430.9,537.2" fill="#555" stroke="#111" stroke-width="0.8" stroke-linejoin="round"/>
<polygon points="308.6,397.8 353.8,374.3 361.5,380.5 314.8,407.0" fill="#2a2a2a" stroke="#111" stroke-width="0.9" stroke-linejoin="round"/>
<polygon points="311.1,400.2 355.4,376.5 358.9,379.3 313.9,404.3" fill="none" stroke="#d8d8d8" stroke-width="0.6" stroke-linejoin="round"/>
<line x1="312.9" y1="400.5" x2="315.3" y2="398.9" stroke="#e0e0e0" stroke-width="0.6"/>
<line x1="318.4" y1="398.2" x2="320.2" y2="397.8" stroke="#e0e0e0" stroke-width="0.6"/>
<line x1="321.8" y1="396.7" x2="322.6" y2="395.0" stroke="#e0e0e0" stroke-width="0.6"/>
<line x1="328.2" y1="394.6" x2="328.6" y2="392.2" stroke="#e0e0e0" stroke-width="0.6"/>
<line x1="333.7" y1="392.0" x2="335.0" y2="389.4" stroke="#e0e0e0" stroke-width="0.6"/>
<line x1="337.3" y1="386.9" x2="340.8" y2="385.9" stroke="#e0e0e0" stroke-width="0.6"/>
<line x1="339.8" y1="385.8" x2="343.2" y2="386.3" stroke="#e0e0e0" stroke-width="0.6"/>
<line x1="345.5" y1="384.3" x2="347.6" y2="382.5" stroke="#e0e0e0" stroke-width="0.6"/>
<line x1="349.9" y1="380.2" x2="351.7" y2="379.7" stroke="#e0e0e0" stroke-width="0.6"/>
<line x1="355.7" y1="378.2" x2="358.0" y2="377.5" stroke="#e0e0e0" stroke-width="0.6"/>
<ellipse cx="280.5" cy="418.5" rx="18.5" ry="18" fill="none" stroke="#333" stroke-width="0.9" stroke-dasharray="5 2.5 1 2.5"/>
<polygon points="275.5,257.0 258.8,265.5 257.7,266.0 257.7,269.6 258.8,270.2 263.7,269.3 269.2,272.6 274.7,269.1 279.0,267.0" fill="#fff" stroke="#111" stroke-width="1.0" stroke-linejoin="round"/>
<ellipse cx="259.6" cy="267.7" rx="1.5" ry="1.2" fill="#222"/>
<polygon points="275.5,255.6 395.3,187.4 395.8,199.2 275.8,268.0" fill="#fff" stroke="#111" stroke-width="1.1" stroke-linejoin="round"/>
<line x1="276.0" y1="258.3" x2="395.5" y2="190.2" stroke="#555" stroke-width="0.7"/>
<polygon points="275.8,255.9 278.8,256.3 279.1,266.9 275.8,268.0" fill="#fff" stroke="#111" stroke-width="0.8" stroke-linejoin="round"/>
<line x1="277.6" y1="261.0" x2="277.6" y2="267.0" stroke="#222" stroke-width="1.3"/>
<polygon points="395.3,187.4 397.6,188.5 398.6,197.0 400.8,197.5 396.4,199.8 395.8,199.2" fill="#333" stroke="#111" stroke-width="0.9" stroke-linejoin="round"/>
<line x1="279.1" y1="266.9" x2="396.4" y2="199.4" stroke="#111" stroke-width="1.0"/>
<line x1="260.4" y1="245.7" x2="260.4" y2="256.9" stroke="#444" stroke-width="0.9"/>
<line x1="260.4" y1="259.0" x2="260.4" y2="260.8" stroke="#666" stroke-width="0.8"/>
<ellipse cx="260.4" cy="244.0" rx="1.6" ry="1.3" fill="#222"/>
<rect x="259.29999999999995" y="244.79999999999998" width="2.2" height="1.8" fill="#999"/>
<line x1="323.2" y1="205.7" x2="323.2" y2="221.8" stroke="#444" stroke-width="0.9"/>
<line x1="323.2" y1="224.6" x2="323.2" y2="227.0" stroke="#666" stroke-width="0.8"/>
<ellipse cx="323.2" cy="204.0" rx="1.6" ry="1.3" fill="#222"/>
<rect x="322.09999999999997" y="204.79999999999998" width="2.2" height="1.8" fill="#999"/>
<line x1="395.3" y1="169.0" x2="395.3" y2="179.1" stroke="#444" stroke-width="0.9"/>
<line x1="395.3" y1="181.1" x2="395.3" y2="182.7" stroke="#666" stroke-width="0.8"/>
<ellipse cx="395.3" cy="167.3" rx="1.6" ry="1.3" fill="#222"/>
<rect x="394.2" y="168.1" width="2.2" height="1.8" fill="#999"/>
<polygon points="222.4,307.5 349.9,234.9 366.7,246.4 371.6,246.4 378.2,250.8 378.2,254.1 256.0,327.8 243.0,327.5 240.5,320.3" fill="#fff" stroke="none" stroke-width="0" stroke-linejoin="round"/>
<line x1="222.4" y1="307.5" x2="349.9" y2="234.9" stroke="#2a2a2a" stroke-width="0.9"/>
<line x1="223.2" y1="308.0" x2="350.6" y2="235.4" stroke="#ccc" stroke-width="0.35"/>
<line x1="225.0" y1="309.3" x2="352.3" y2="236.5" stroke="#2a2a2a" stroke-width="0.9"/>
<line x1="225.8" y1="309.9" x2="353.0" y2="237.0" stroke="#ccc" stroke-width="0.35"/>
<line x1="227.6" y1="311.2" x2="354.7" y2="238.2" stroke="#2a2a2a" stroke-width="0.9"/>
<line x1="228.3" y1="311.7" x2="355.4" y2="238.7" stroke="#ccc" stroke-width="0.35"/>
<line x1="230.2" y1="313.0" x2="357.1" y2="239.8" stroke="#2a2a2a" stroke-width="0.9"/>
<line x1="230.9" y1="313.5" x2="357.8" y2="240.3" stroke="#ccc" stroke-width="0.35"/>
<line x1="232.7" y1="314.8" x2="359.5" y2="241.5" stroke="#2a2a2a" stroke-width="0.9"/>
<line x1="233.5" y1="315.4" x2="360.2" y2="242.0" stroke="#ccc" stroke-width="0.35"/>
<line x1="235.3" y1="316.6" x2="361.9" y2="243.1" stroke="#2a2a2a" stroke-width="0.9"/>
<line x1="236.1" y1="317.2" x2="362.6" y2="243.6" stroke="#ccc" stroke-width="0.35"/>
<line x1="237.9" y1="318.5" x2="364.3" y2="244.8" stroke="#2a2a2a" stroke-width="0.9"/>
<line x1="238.7" y1="319.0" x2="365.0" y2="245.2" stroke="#ccc" stroke-width="0.35"/>
<line x1="240.5" y1="320.3" x2="366.7" y2="246.4" stroke="#2a2a2a" stroke-width="0.9"/>
<polyline points="222.4,307.5 223.1,310.4 225.0,309.3 225.7,312.2 227.6,311.2 228.3,314.1 230.2,313.0 230.8,315.9 232.7,314.8 233.4,317.7 235.3,316.6 236.0,319.6 237.9,318.5 238.6,321.4 240.5,320.3" fill="none" stroke="#333" stroke-width="0.7" stroke-linejoin="round"/>
<polyline points="349.9,234.9 350.5,237.7 352.3,236.5 352.9,239.4 354.7,238.2 355.3,241.0 357.1,239.8 357.7,242.7 359.5,241.5 360.1,244.3 361.9,243.1 362.5,245.9 364.3,244.8 364.9,247.6 366.7,246.4" fill="none" stroke="#333" stroke-width="0.7" stroke-linejoin="round"/>
<polygon points="240.5,320.3 366.7,246.4 371.6,246.4 378.2,250.8 378.2,254.1 256.0,327.8 243.0,327.5 240.5,320.3" fill="none" stroke="#111" stroke-width="1.0" stroke-linejoin="round"/>
<line x1="244.0" y1="322.5" x2="372.5" y2="248.8" stroke="#444" stroke-width="0.6"/>
<line x1="253.5" y1="325.4" x2="377.8" y2="252.2" stroke="#222" stroke-width="0.9"/>
<polyline points="251.2,318.9 259.3,317.9 264.1,311.4 272.1,310.4 277.0,303.9 285.0,302.9 289.9,296.4 297.9,295.4 302.7,288.8 310.8,287.8 315.6,281.3 323.7,280.3 328.5,273.8 336.6,272.8 341.4,266.3 349.5,265.3 354.3,258.7 362.4,257.7 367.2,251.2" fill="none" stroke="#222" stroke-width="0.8" stroke-linejoin="round"/>
<line x1="257.6" y1="315.2" x2="258.7" y2="317.0" stroke="#444" stroke-width="0.6"/>
<line x1="270.5" y1="307.6" x2="271.6" y2="309.4" stroke="#444" stroke-width="0.6"/>
<line x1="283.4" y1="300.1" x2="284.5" y2="301.9" stroke="#444" stroke-width="0.6"/>
<line x1="296.3" y1="292.6" x2="297.4" y2="294.4" stroke="#444" stroke-width="0.6"/>
<line x1="309.2" y1="285.1" x2="310.2" y2="286.9" stroke="#444" stroke-width="0.6"/>
<line x1="322.1" y1="277.5" x2="323.1" y2="279.3" stroke="#444" stroke-width="0.6"/>
<line x1="335.0" y1="270.0" x2="336.0" y2="271.8" stroke="#444" stroke-width="0.6"/>
<line x1="347.9" y1="262.5" x2="348.9" y2="264.3" stroke="#444" stroke-width="0.6"/>
<line x1="360.7" y1="255.0" x2="361.8" y2="256.8" stroke="#444" stroke-width="0.6"/>
<polygon points="255.4,318.7 257.8,315.4 258.9,317.4" fill="#666"/>
<polygon points="268.3,311.2 270.7,307.9 271.8,309.8" fill="#666"/>
<polygon points="281.2,303.7 283.6,300.4 284.7,302.3" fill="#666"/>
<polygon points="294.1,296.1 296.5,292.9 297.6,294.8" fill="#666"/>
<polygon points="306.9,288.6 309.4,285.3 310.5,287.3" fill="#666"/>
<polygon points="319.8,281.1 322.2,277.8 323.4,279.8" fill="#666"/>
<polygon points="332.7,273.6 335.1,270.3 336.3,272.2" fill="#666"/>
<polygon points="345.6,266.0 348.0,262.8 349.2,264.7" fill="#666"/>
<polygon points="358.5,258.5 360.9,255.3 362.0,257.2" fill="#666"/>
<polygon points="242.0,318.8 249.0,318.0 256.0,322.5 256.0,327.8 243.0,327.5" fill="#fff" stroke="#111" stroke-width="0.9" stroke-linejoin="round"/>
<polygon points="244.5,320.5 249.0,320.0 254.0,323.3 254.0,326.2 245.0,325.8" fill="#bbb" stroke="#333" stroke-width="0.7" stroke-linejoin="round"/>
<polygon points="368.0,246.0 372.0,246.4 378.2,250.8 378.2,254.1 374.0,253.5" fill="#ddd" stroke="#111" stroke-width="0.8" stroke-linejoin="round"/>
<polygon points="460.1,374.4 579.6,304.6 585.0,303.0 589.5,305.2 597.0,308.0 593.8,311.8 463.6,384.7 458.8,384.7 454.6,378.5" fill="#fff" stroke="#111" stroke-width="1.0" stroke-linejoin="round"/>
<line x1="458.0" y1="379.5" x2="595.0" y2="309.5" stroke="#666" stroke-width="0.6"/>
<line x1="461.0" y1="382.5" x2="594.5" y2="310.8" stroke="#333" stroke-width="0.8"/>
<polygon points="459.8,357.9 576.6,293.0 579.2,294.0 579.6,304.6 460.1,374.4" fill="#fff" stroke="#111" stroke-width="1.1" stroke-linejoin="round"/>
<line x1="461.5" y1="358.5" x2="461.8" y2="374.0" stroke="#222" stroke-width="1.2"/>
<polygon points="576.6,293.0 579.2,294.0 579.6,304.6 577.5,304.0" fill="#666" stroke="#111" stroke-width="0.8" stroke-linejoin="round"/>
<ellipse cx="458" cy="383.8" rx="1.8" ry="1.2" fill="#222"/>
<ellipse cx="594.5" cy="305.8" rx="1.8" ry="1.2" fill="#222"/>
<line x1="594.4" y1="283.0" x2="594.4" y2="300.0" stroke="#444" stroke-width="0.9"/>
<line x1="594.4" y1="303.0" x2="594.4" y2="305.5" stroke="#666" stroke-width="0.8"/>
<ellipse cx="594.4" cy="281.3" rx="1.6" ry="1.3" fill="#222"/>
<rect x="593.3" y="282.1" width="2.2" height="1.8" fill="#999"/>
<line x1="532.0" y1="327.0" x2="532.0" y2="337.8" stroke="#444" stroke-width="0.9"/>
<line x1="532.0" y1="339.8" x2="532.0" y2="341.5" stroke="#666" stroke-width="0.8"/>
<ellipse cx="532.0" cy="325.3" rx="1.6" ry="1.3" fill="#222"/>
<rect x="530.9" y="326.1" width="2.2" height="1.8" fill="#999"/>
<ellipse cx="532" cy="344" rx="2.8" ry="1.5" fill="#fff" stroke="#222" stroke-width="0.9"/>
<polygon points="480.9,458.0 482.5,455.7 609.3,383.2 615.4,388.2 636.3,399.5 636.5,403.0 510.0,479.0 508.4,476.0 489.7,465.0 481.5,462.0" fill="#fff" stroke="none" stroke-width="0" stroke-linejoin="round"/>
<polygon points="480.9,458.0 482.5,455.7 609.3,383.2 614.6,387.4 615.4,388.2 489.7,460.7 489.7,465.0 481.5,462.0 480.9,458.0" fill="none" stroke="#111" stroke-width="1.0" stroke-linejoin="round"/>
<line x1="485.0" y1="459.8" x2="612.0" y2="386.3" stroke="#333" stroke-width="0.7"/>
<polyline points="491.1,455.6 499.2,455.1 503.8,448.3 511.9,447.7 516.4,440.9 524.6,440.4 529.1,433.6 537.2,433.0 541.8,426.2 549.9,425.7 554.4,418.9 562.6,418.3 567.1,411.5 575.2,410.9 579.8,404.2 587.9,403.6 592.4,396.8 600.6,396.2 605.1,389.4" fill="none" stroke="#222" stroke-width="0.8" stroke-linejoin="round"/>
<line x1="497.4" y1="452.0" x2="498.6" y2="454.0" stroke="#444" stroke-width="0.6"/>
<line x1="510.1" y1="444.6" x2="511.3" y2="446.6" stroke="#444" stroke-width="0.6"/>
<line x1="522.8" y1="437.3" x2="523.9" y2="439.3" stroke="#444" stroke-width="0.6"/>
<line x1="535.4" y1="429.9" x2="536.6" y2="431.9" stroke="#444" stroke-width="0.6"/>
<line x1="548.1" y1="422.5" x2="549.3" y2="424.6" stroke="#444" stroke-width="0.6"/>
<line x1="560.8" y1="415.2" x2="561.9" y2="417.2" stroke="#444" stroke-width="0.6"/>
<line x1="573.4" y1="407.8" x2="574.6" y2="409.9" stroke="#444" stroke-width="0.6"/>
<line x1="586.1" y1="400.5" x2="587.3" y2="402.5" stroke="#444" stroke-width="0.6"/>
<line x1="598.8" y1="393.1" x2="599.9" y2="395.1" stroke="#444" stroke-width="0.6"/>
<polygon points="495.3,455.7 497.6,452.3 498.9,454.5" fill="#666"/>
<polygon points="508.0,448.3 510.3,444.9 511.5,447.1" fill="#666"/>
<polygon points="520.7,441.0 522.9,437.6 524.2,439.7" fill="#666"/>
<polygon points="533.3,433.6 535.6,430.2 536.9,432.4" fill="#666"/>
<polygon points="546.0,426.3 548.3,422.9 549.5,425.0" fill="#666"/>
<polygon points="558.7,418.9 560.9,415.5 562.2,417.7" fill="#666"/>
<polygon points="571.3,411.5 573.6,408.1 574.9,410.3" fill="#666"/>
<polygon points="584.0,404.2 586.3,400.8 587.5,403.0" fill="#666"/>
<polygon points="596.7,396.8 598.9,393.4 600.2,395.6" fill="#666"/>
<polygon points="481.0,457.5 485.0,456.0 489.7,460.7 489.7,465.0 481.5,462.0" fill="#ccc" stroke="#111" stroke-width="0.8" stroke-linejoin="round"/>
<polygon points="605.0,384.5 609.3,383.2 614.6,387.4 612.0,389.0" fill="#ccc" stroke="#111" stroke-width="0.8" stroke-linejoin="round"/>
<line x1="489.7" y1="460.7" x2="615.4" y2="388.2" stroke="#2a2a2a" stroke-width="0.9"/>
<line x1="490.6" y1="461.5" x2="616.4" y2="388.8" stroke="#ccc" stroke-width="0.35"/>
<line x1="492.8" y1="463.2" x2="618.9" y2="390.1" stroke="#2a2a2a" stroke-width="0.9"/>
<line x1="493.8" y1="464.0" x2="619.9" y2="390.6" stroke="#ccc" stroke-width="0.35"/>
<line x1="495.9" y1="465.8" x2="622.4" y2="392.0" stroke="#2a2a2a" stroke-width="0.9"/>
<line x1="496.9" y1="466.6" x2="623.4" y2="392.5" stroke="#ccc" stroke-width="0.35"/>
<line x1="499.0" y1="468.4" x2="625.8" y2="393.9" stroke="#2a2a2a" stroke-width="0.9"/>
<line x1="500.0" y1="469.1" x2="626.9" y2="394.4" stroke="#ccc" stroke-width="0.35"/>
<line x1="502.2" y1="470.9" x2="629.3" y2="395.7" stroke="#2a2a2a" stroke-width="0.9"/>
<line x1="503.1" y1="471.7" x2="630.4" y2="396.3" stroke="#ccc" stroke-width="0.35"/>
<line x1="505.3" y1="473.4" x2="632.8" y2="397.6" stroke="#2a2a2a" stroke-width="0.9"/>
<line x1="506.2" y1="474.2" x2="633.9" y2="398.2" stroke="#ccc" stroke-width="0.35"/>
<line x1="508.4" y1="476.0" x2="636.3" y2="399.5" stroke="#2a2a2a" stroke-width="0.9"/>
<polyline points="489.7,460.7 490.7,464.0 492.8,463.2 493.8,466.5 495.9,465.8 496.9,469.1 499.0,468.4 500.0,471.6 502.2,470.9 503.1,474.2 505.3,473.4 506.2,476.7 508.4,476.0" fill="none" stroke="#333" stroke-width="0.7" stroke-linejoin="round"/>
<polyline points="615.4,388.2 616.5,391.1 618.9,390.1 620.0,393.0 622.4,392.0 623.5,394.9 625.8,393.9 627.0,396.8 629.3,395.7 630.5,398.7 632.8,397.6 634.0,400.6 636.3,399.5" fill="none" stroke="#333" stroke-width="0.7" stroke-linejoin="round"/>
<polygon points="508.4,476.0 510.0,479.0 636.5,403.0 636.3,399.5" fill="#fff" stroke="#111" stroke-width="0.9" stroke-linejoin="round"/>
<line x1="509.0" y1="477.5" x2="636.4" y2="401.3" stroke="#777" stroke-width="0.5"/>
<path d="M287.5,512.4 C279,512 272.5,517 275.5,524 C277.5,528 288,532 300,538 L338,555.5 C345,558 350,552 347.9,546 C346,541 340,538 330,533 L296,515 C293,513.5 290,512.5 287.5,512.4 Z" fill="#fff" stroke="#222" stroke-width="1.1" stroke-linejoin="round" stroke-linecap="round"/>
<line x1="283.0" y1="521.0" x2="335.0" y2="548.5" stroke="#999" stroke-width="0.5"/>
<path d="M300,532 C297,527 303,523.5 310,524.5 L326,530 C334,533 335,540 331,543.5 C327,546 318,544 312,541 L302,536 Z" fill="#fff" stroke="#333" stroke-width="0.9" stroke-linejoin="round" stroke-linecap="round"/>
<path d="M318,527.5 L326,524.5 L331,527 L333.5,534" fill="none" stroke="#444" stroke-width="0.8" stroke-linejoin="round" stroke-linecap="round"/>
<line x1="303.0" y1="535.0" x2="330.0" y2="546.0" stroke="#666" stroke-width="0.6"/>
<path d="M308,516 L308.3,527 C309.5,530 315,530 316.3,527 L316.3,516 C315.5,512.5 309,512.5 308,516 Z" fill="#1a1a1a" stroke="#000" stroke-width="1" stroke-linejoin="round" stroke-linecap="round"/>
<line x1="310.5" y1="515.5" x2="310.7" y2="527.5" stroke="#888" stroke-width="0.5"/>
<line x1="313.5" y1="515.5" x2="313.7" y2="527.5" stroke="#888" stroke-width="0.5"/>
<ellipse cx="312.2" cy="529.5" rx="5.5" ry="2.6" fill="none" stroke="#222" stroke-width="0.9"/>
<path d="M280,520.5 L280,518.0 L281,516.5 L283,516.5 L284,518.0 L284,520.5 Z" fill="#fff" stroke="#333" stroke-width="0.7" stroke-linejoin="round" stroke-linecap="round"/>
<ellipse cx="282" cy="520.5" rx="2.6" ry="1.3" fill="none" stroke="#444" stroke-width="0.6"/>
<path d="M332.2,550.6 L332.2,548.1 L333.2,546.6 L335.2,546.6 L336.2,548.1 L336.2,550.6 Z" fill="#fff" stroke="#333" stroke-width="0.7" stroke-linejoin="round" stroke-linecap="round"/>
<ellipse cx="334.2" cy="550.6" rx="2.6" ry="1.3" fill="none" stroke="#444" stroke-width="0.6"/>
<path d="M329,555 L329.5,566 C330,571 341,572 342,566.5 L342.4,556" fill="#fff" stroke="#333" stroke-width="0.9" stroke-linejoin="round" stroke-linecap="round"/>
<ellipse cx="335.7" cy="566.5" rx="6" ry="3" fill="#fff" stroke="#333" stroke-width="0.8"/>
<line x1="280.6" y1="535.7" x2="280.6" y2="563.5" stroke="#333" stroke-width="0.8"/>
<rect x="279.3" y="547.0" width="2.6" height="11.3" fill="#fff" stroke="#333" stroke-width="0.7"/>
<ellipse cx="280.6" cy="565.5" rx="3.2" ry="2" fill="#222"/>
<line x1="332.8" y1="572.5" x2="332.8" y2="592.5" stroke="#333" stroke-width="0.8"/>
<rect x="331.5" y="580.9" width="2.6" height="8.4" fill="#fff" stroke="#333" stroke-width="0.7"/>
<ellipse cx="332.8" cy="594.5" rx="3.2" ry="2" fill="#222"/>
<path d="M375.4,567.4 C368,567 364.5,573 368,578 C371,582 385,588 400,595 L430.3,608.6 C437,611 445,606 442.7,600.3 C441,596 436,593.5 428,590 L385,569 C381,567.5 378,567.2 375.4,567.4 Z" fill="#fff" stroke="#222" stroke-width="1.1" stroke-linejoin="round" stroke-linecap="round"/>
<line x1="376.0" y1="573.0" x2="427.6" y2="602.8" stroke="#555" stroke-width="0.6"/>
<line x1="384.0" y1="565.2" x2="410.0" y2="582.0" stroke="#444" stroke-width="0.55"/>
<line x1="384.1" y1="565.8" x2="410.1" y2="582.5" stroke="#444" stroke-width="0.55"/>
<line x1="384.2" y1="566.3" x2="410.2" y2="583.1" stroke="#444" stroke-width="0.55"/>
<line x1="384.3" y1="566.9" x2="410.3" y2="583.6" stroke="#444" stroke-width="0.55"/>
<line x1="384.4" y1="567.4" x2="410.4" y2="584.2" stroke="#444" stroke-width="0.55"/>
<line x1="384.6" y1="568.0" x2="410.6" y2="584.8" stroke="#444" stroke-width="0.55"/>
<line x1="384.7" y1="568.5" x2="410.7" y2="585.3" stroke="#444" stroke-width="0.55"/>
<line x1="384.8" y1="569.1" x2="410.8" y2="585.9" stroke="#444" stroke-width="0.55"/>
<path d="M409,587 L413.5,583.5 L419,586 L422,590 L422,595.5 L416.5,597.5 L408.4,593 Z" fill="#444" stroke="#111" stroke-width="0.9" stroke-linejoin="round" stroke-linecap="round"/>
<path d="M413.5,583.5 L414,590 L422,594.5 M414,590 L408.4,593" fill="none" stroke="#ddd" stroke-width="0.6" stroke-linejoin="round" stroke-linecap="round"/>
<path d="M373.4,573.6 L373.4,571.1 L374.4,569.6 L376.4,569.6 L377.4,571.1 L377.4,573.6 Z" fill="#fff" stroke="#333" stroke-width="0.7" stroke-linejoin="round" stroke-linecap="round"/>
<ellipse cx="375.4" cy="573.6" rx="2.6" ry="1.3" fill="none" stroke="#444" stroke-width="0.6"/>
<path d="M425.6,603.8 L425.6,601.3 L426.6,599.8 L428.6,599.8 L429.6,601.3 L429.6,603.8 Z" fill="#fff" stroke="#333" stroke-width="0.7" stroke-linejoin="round" stroke-linecap="round"/>
<ellipse cx="427.6" cy="603.8" rx="2.6" ry="1.3" fill="none" stroke="#444" stroke-width="0.6"/>
<line x1="374.2" y1="582.5" x2="374.2" y2="610.5" stroke="#333" stroke-width="0.8"/>
<rect x="372.9" y="593.9" width="2.6" height="11.4" fill="#fff" stroke="#333" stroke-width="0.7"/>
<ellipse cx="374.2" cy="612.5" rx="3.2" ry="2" fill="#222"/>
<line x1="426.3" y1="613.5" x2="426.3" y2="640.5" stroke="#333" stroke-width="0.8"/>
<rect x="425.0" y="624.5" width="2.6" height="11.0" fill="#fff" stroke="#333" stroke-width="0.7"/>
<ellipse cx="426.3" cy="642.5" rx="3.2" ry="2" fill="#222"/>
<text x="194.45" y="206.50">05</text>
<text x="614.20" y="221.90">24</text>
<text x="123.60" y="350.20">21</text>
<text x="693.10" y="456.70">01</text>
<text x="67.10" y="535.90">10</text>
<text x="164.60" y="531.80">30</text>
<text x="617.30" y="560.30">25</text>
<text x="520.60" y="620.10">35</text>
</svg>
</body></html>
